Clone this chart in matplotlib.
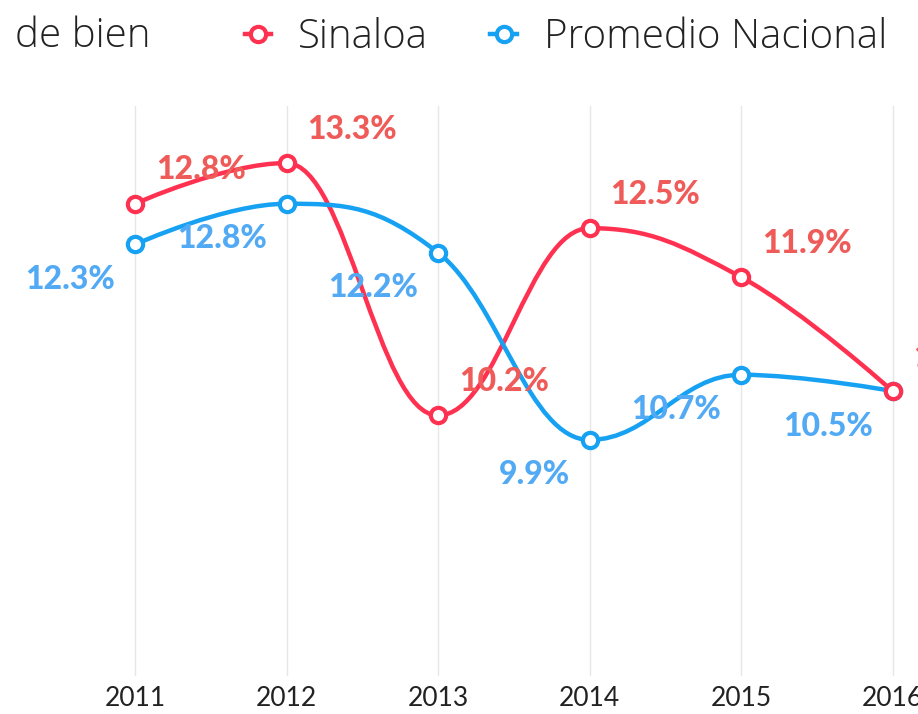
import numpy as np
import matplotlib
matplotlib.use("Agg")
import matplotlib.pyplot as plt
from matplotlib.path import Path
from matplotlib.patches import PathPatch
from matplotlib.lines import Line2D

# data
years = [2011, 2012, 2013, 2014, 2015, 2016]
sinaloa = [12.8, 13.3, 10.2, 12.5, 11.9, 10.5]
nacional = [12.3, 12.8, 12.2, 9.9, 10.7, 10.5]
series_names = ["Sinaloa", "Promedio Nacional"]

red_line = "#FF3150"
blue_line = "#16A1F2"
red_label = "#EE5B59"
blue_label = "#52AAF5"


# highcharts-like spline: cubic bezier control points per point
def spline_path(xs, ys, smoothing=1.5):
    xs = np.asarray(xs, float)
    ys = np.asarray(ys, float)
    n = len(xs)
    denom = smoothing + 1
    left = [(xs[i], ys[i]) for i in range(n)]
    right = [(xs[i], ys[i]) for i in range(n)]
    for i in range(1, n - 1):
        lx, ly = xs[i - 1], ys[i - 1]
        nx, ny = xs[i + 1], ys[i + 1]
        px, py = xs[i], ys[i]
        lcx = (smoothing * px + lx) / denom
        lcy = (smoothing * py + ly) / denom
        rcx = (smoothing * px + nx) / denom
        rcy = (smoothing * py + ny) / denom
        corr = (rcy - lcy) * (rcx - px) / (rcx - lcx) + py - rcy
        lcy += corr
        rcy += corr
        if lcy > ly and lcy > py:
            lcy = max(ly, py)
            rcy = 2 * py - lcy
        elif lcy < ly and lcy < py:
            lcy = min(ly, py)
            rcy = 2 * py - lcy
        if rcy > ny and rcy > py:
            rcy = max(ny, py)
            lcy = 2 * py - rcy
        elif rcy < ny and rcy < py:
            rcy = min(ny, py)
            lcy = 2 * py - rcy
        left[i] = (lcx, lcy)
        right[i] = (rcx, rcy)
    verts = [(xs[0], ys[0])]
    codes = [Path.MOVETO]
    for i in range(1, n):
        verts += [right[i - 1], left[i], (xs[i], ys[i])]
        codes += [Path.CURVE4] * 3
    return Path(verts, codes)


fig = plt.figure(figsize=(9.18, 7.14), dpi=100)
ax = fig.add_axes([0, 0.0532, 1, 0.7983])

px_per_year = 151.5
ax.set_xlim(2011 - 135 / px_per_year, 2011 + (918 - 135) / px_per_year)
ax.set_ylim(7, 14)

for name, vals, lc in [(series_names[0], sinaloa, red_line), (series_names[1], nacional, blue_line)]:
    ax.add_patch(PathPatch(spline_path(years, vals), facecolor="none", edgecolor=lc,
                           lw=3.2, capstyle="round", joinstyle="round", zorder=3))

# markers (blue first, red on top)
ax.plot(years, nacional, ls="none", marker="o", ms=11, mfc="white", mec=blue_line, mew=3, zorder=4)
ax.plot(years, sinaloa, ls="none", marker="o", ms=11, mfc="white", mec=red_line, mew=3, zorder=5)

label_font = dict(family=["Lato", "DejaVu Sans"], weight="black", fontsize=23)
for x, v in zip(years, sinaloa):
    ax.annotate(f"{v:.1f}%", (x, v), xytext=(21, 34), textcoords="offset pixels",
                ha="left", va="center", color=red_label, zorder=6, annotation_clip=False,
                **label_font)
for x, v in zip(years, nacional):
    ax.annotate(f"{v:.1f}%", (x, v), xytext=(-20, -35), textcoords="offset pixels",
                ha="right", va="center", color=blue_label, zorder=6, annotation_clip=False,
                **label_font)

ax.set_xticks(years)
ax.set_xticklabels([str(y) for y in years], fontsize=19, color="#222222",
                   family=["Lato", "DejaVu Sans"], fontweight="normal")
ax.tick_params(axis="x", length=0, pad=7)
ax.set_yticks([])
ax.grid(axis="x", color="#E6E6E6", lw=1)
ax.set_axisbelow(True)
for s in ax.spines.values():
    s.set_visible(False)

# cropped title remnant
text_font = ["Open Sans", "DejaVu Sans"]
fig.text(15 / 918, 1 - 47 / 714, "de bien", fontsize=29, color="#222222",
         family=text_font, fontweight="light", ha="left", va="baseline")

handles = [Line2D([], [], color=red_line, lw=3.2, marker="o", ms=11, mfc="white", mec=red_line, mew=3),
           Line2D([], [], color=blue_line, lw=3.2, marker="o", ms=11, mfc="white", mec=blue_line, mew=3)]
fig.legend(handles, series_names, loc="center right", bbox_to_anchor=(1 - 31 / 918, 1 - 38 / 714),
           ncol=2, frameon=False, handlelength=0.65, handletextpad=0.67,
           columnspacing=1.55, borderaxespad=0, borderpad=0,
           prop=dict(family=text_font, size=29, weight="light"))
for t in fig.legends[0].get_texts():
    t.set_color("#222222")

fig.savefig("out.png", dpi=100)
